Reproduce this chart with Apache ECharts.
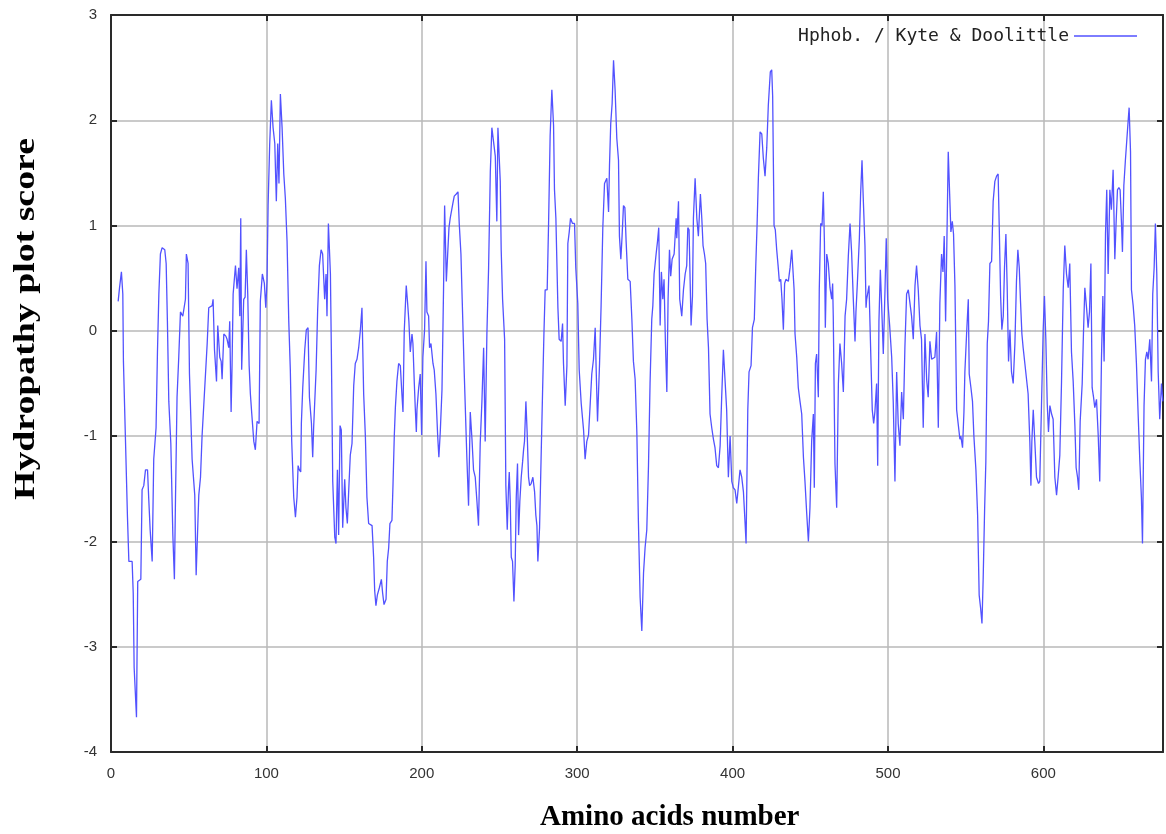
<!DOCTYPE html>
<html><head><meta charset="utf-8">
<script src="https://cdn.jsdelivr.net/npm/echarts@6/dist/echarts.min.js"></script>
<style>html,body{margin:0;padding:0;background:#fff}#c{width:1166px;height:834px}</style>
</head><body><div id="c"></div>
<script>
const seriesName = 'Hphob. / Kyte & Doolittle';
const xTitle = 'Amino acids number';
const yTitle = 'Hydropathy plot score';

const residue = [
4.6,5.5,6.7,7.6,8.0,9.3,10.6,11.5,13.6,14.3,14.9,16.4,17.2,19.2,20.0,21.1,22.2,23.5,24.3,25.2,26.5,27.5,29.0,29.9,30.8,31.8,32.9,34.6,35.5,36.3,37.2,38.5,39.8,40.8,41.5,42.5,43.6,44.7,46.2,47.9,48.5,49.6,50.5,52.2,53.9,54.8,56.5,
57.6,58.6,60.1,61.9,62.9,65.1,65.7,66.6,67.9,68.7,70.0,70.9,71.5,72.6,73.9,74.7,75.8,76.4,77.3,77.9,78.6,80.1,81.1,82.2,82.9,83.5,84.1,85.4,86.3,87.1,88.0,88.9,89.7,90.6,91.9,92.9,94.0,95.3,96.1,97.4,98.7,99.6,100.4,101.1,102.1,103.2,104.3,105.4,106.4,107.3,108.1,109.0,110.1,111.2,112.2,113.3,114.4,115.4,116.3,117.6,
118.7,119.7,120.4,121.2,122.1,122.5,123.4,124.7,125.7,126.8,127.7,129.0,129.8,130.4,132.0,133.0,134.1,135.2,136.2,137.5,138.4,139.0,139.9,141.2,141.8,142.7,144.0,144.8,145.7,146.5,147.4,148.2,149.1,150.4,151.2,152.1,153.0,154.0,155.1,156.2,157.2,158.3,159.4,160.5,161.5,162.6,163.7,164.7,165.8,168.0,169.0,169.7,170.5,171.4,172.7,174.0,174.8,175.7,177.0,177.8,178.7,179.5,
180.8,181.5,182.3,183.0,184.0,185.1,186.2,187.2,187.9,188.7,190.0,190.9,191.7,192.6,193.7,194.3,195.2,195.8,196.5,196.9,198.0,199.0,199.9,200.7,201.8,202.7,203.3,204.4,205.0,205.9,207.2,208.0,209.1,210.2,211.0,211.9,213.0,214.0,214.7,215.8,216.6,217.5,218.3,219.4,220.0,220.9,222.2,223.3,224.1,225.2,226.0,227.3,229.0,230.1,231.2,232.3,233.3,234.4,235.5,236.5,237.6,238.7,239.8,
240.8,241.9,243.0,244.1,245.1,246.2,247.3,248.3,249.0,249.8,250.5,251.1,252.0,253.3,254.1,255.0,255.8,256.3,256.9,257.6,258.4,259.3,260.1,260.8,261.6,262.3,263.1,264.0,264.9,265.5,266.1,267.0,267.8,268.7,269.4,270.4,271.5,272.6,273.4,274.1,274.7,275.8,276.9,277.7,278.6,279.4,280.7,281.6,282.6,283.7,284.8,285.4,286.3,287.6,288.4,289.7,290.6,291.2,292.3,293.4,294.0,294.9,295.7,297.0,298.3,299.1,300.4,301.3,302.6,
303.0,304.1,305.1,306.2,307.3,308.4,309.4,310.5,311.6,312.2,313.1,314.4,315.4,316.5,317.6,319.1,320.2,320.8,321.6,322.5,323.4,324.4,325.5,326.6,327.2,328.1,328.9,329.8,330.7,331.5,332.6,334.1,335.2,336.2,337.3,338.4,339.4,340.5,341.6,342.7,343.7,344.8,345.9,346.9,348.0,348.7,349.5,350.8,351.7,352.5,353.4,354.2,355.1,355.9,356.8,357.7,358.5,359.4,360.2,361.1,362.4,363.7,
364.1,365.2,366.0,367.3,368.4,369.5,370.5,371.2,372.0,373.3,374.2,374.8,375.9,377.0,378.0,379.3,380.2,381.0,381.9,382.7,383.6,384.5,385.5,386.6,387.7,388.7,389.8,390.9,392.0,393.0,394.1,395.2,396.2,397.3,398.4,399.5,400.5,401.6,402.7,403.8,404.8,405.9,407.0,408.0,408.7,409.8,410.6,411.9,412.8,414.0,414.9,415.8,416.6,417.7,418.8,419.8,420.9,422.0,423.0,424.3,
425.2,425.8,426.7,427.5,428.4,429.3,430.1,431.0,431.8,432.7,433.5,434.4,435.9,437.0,438.1,439.1,439.6,440.2,441.3,442.3,443.4,444.5,445.6,446.6,447.7,448.8,449.8,450.9,452.0,452.6,453.3,454.1,455.2,455.8,456.7,457.6,458.4,459.1,459.7,460.6,461.6,462.7,463.8,464.4,464.8,465.9,467.0,468.1,469.1,470.2,471.3,472.4,473.4,474.5,475.6,476.6,477.7,478.8,479.4,480.3,481.6,482.4,483.3,484.1,485.2,485.9,
486.3,487.8,489.1,489.9,490.8,491.6,492.7,493.4,494.2,495.1,495.9,497.0,498.1,498.9,499.8,501.1,502.4,503.4,504.5,505.6,506.6,507.7,508.8,509.9,510.9,512.0,513.1,514.2,515.2,516.3,517.4,518.4,519.5,520.6,521.6,522.7,523.8,524.9,525.9,527.0,528.1,529.2,530.2,531.3,532.4,533.4,534.5,535.4,536.2,537.1,537.9,538.8,539.7,540.5,541.4,542.2,543.1,544.2,545.2,546.3,
546.9,548.0,548.9,549.5,550.6,551.7,552.3,553.4,554.4,555.3,556.6,557.7,558.7,559.6,560.5,561.3,562.2,563.0,563.9,564.7,565.6,566.7,567.7,568.8,569.9,570.9,571.6,572.5,573.3,574.2,575.0,575.9,576.7,577.6,578.5,579.5,580.6,581.7,582.7,583.6,584.5,585.3,586.2,587.0,588.1,589.2,590.2,591.3,592.0,592.6,593.5,594.5,595.6,596.9,597.7,598.8,599.9,600.7,601.6,602.5,603.3,604.2,605.3,606.3,607.4,
608.5,609.5,610.6,611.7,612.8,613.8,614.9,616.0,617.0,618.1,619.2,620.3,621.1,622.0,622.8,623.7,625.0,625.8,626.7,627.8,628.8,629.7,630.6,631.4,632.3,633.1,634.2,635.3,636.3,637.4,638.3,639.1,640.0,640.8,641.7,642.8,643.8,644.9,646.0,646.8,647.7,648.6,649.4,650.3,650.9,651.8,652.8,653.7,654.6,655.2,656.1,656.7,657.8,658.8,659.9,661.0,662.1,663.1,663.8,664.8,665.7,666.6,667.4,668.5,669.6,670.4,671.3,672.1,673.0,673.9,674.9,676.0,676.9
];

const score = [
0.28,0.41,0.56,0.35,-0.29,-1.03,-1.77,-2.19,-2.19,-2.49,-3.2,-3.67,-2.38,-2.36,-1.51,-1.47,-1.32,-1.32,-1.6,-1.89,-2.19,-1.22,-0.92,-0.2,0.35,0.73,0.79,0.77,0.64,0.09,-0.67,-1.07,-1.94,-2.36,-1.6,-0.63,-0.25,0.18,0.14,0.3,0.73,0.64,-0.41,-1.22,-1.56,-2.32,-1.56,
-1.39,-1.0,-0.6,-0.12,0.22,0.24,0.3,-0.18,-0.48,0.05,-0.25,-0.29,-0.46,-0.03,-0.05,-0.08,-0.16,0.09,-0.77,-0.33,0.35,0.62,0.4,0.6,0.14,1.07,-0.37,0.3,0.32,0.77,0.35,-0.33,-0.6,-0.79,-1.05,-1.13,-0.86,-0.88,0.28,0.54,0.45,0.22,0.47,1.19,1.76,2.19,1.93,1.78,1.23,1.78,1.4,2.25,1.93,1.49,1.26,0.85,0.09,-0.37,-1.05,-1.58,
-1.77,-1.58,-1.28,-1.32,-1.34,-0.88,-0.54,-0.18,0.01,0.03,-0.63,-0.88,-1.2,-0.92,-0.37,0.2,0.62,0.77,0.73,0.3,0.54,0.14,1.02,0.54,-0.18,-1.43,-1.96,-2.02,-1.32,-1.94,-0.9,-0.94,-1.87,-1.41,-1.68,-1.83,-1.51,-1.18,-1.07,-0.52,-0.31,-0.27,-0.16,0.01,0.22,-0.6,-1.0,-1.58,-1.83,-1.85,-2.15,-2.47,-2.61,-2.51,-2.44,-2.36,-2.49,-2.6,-2.55,-2.19,-2.06,-1.83,
-1.8,-1.45,-1.0,-0.73,-0.48,-0.31,-0.33,-0.6,-0.77,-0.01,0.43,0.26,0.09,-0.2,-0.03,-0.12,-0.5,-0.73,-0.96,-0.75,-0.54,-0.41,-0.99,-0.25,0.01,0.66,0.18,0.14,-0.16,-0.12,-0.31,-0.37,-0.6,-0.99,-1.2,-0.96,-0.56,0.39,1.19,0.47,0.71,0.98,1.07,1.07,1.21,1.28,1.3,1.32,1.02,0.73,0.3,-0.39,-1.2,-1.66,-0.77,-1.03,-1.32,-1.39,-1.62,-1.85,-1.07,-0.67,-0.16,
-1.05,-0.03,0.6,1.51,1.93,1.93,1.66,1.04,1.93,1.93,1.42,0.77,0.3,-0.08,-1.47,-1.89,-1.49,-1.34,-1.6,-2.15,-2.19,-2.57,-2.23,-1.58,-1.26,-1.94,-1.62,-1.39,-1.24,-1.13,-1.05,-0.67,-0.96,-1.39,-1.47,-1.45,-1.39,-1.53,-1.75,-1.85,-2.19,-1.87,-1.13,-0.6,-0.03,0.39,0.39,1.02,1.85,2.29,1.95,1.34,1.07,0.22,-0.08,-0.1,0.07,-0.31,-0.71,-0.33,0.83,0.94,1.07,1.02,1.02,0.6,0.26,-0.37,-0.69,
-0.69,-0.94,-1.22,-1.05,-0.99,-0.69,-0.41,-0.27,0.03,-0.35,-0.86,-0.31,0.24,0.98,1.4,1.45,1.13,1.57,1.97,2.16,2.57,2.29,1.83,1.62,0.9,0.68,0.9,1.19,1.17,0.85,0.49,0.47,0.11,-0.29,-0.46,-0.96,-1.81,-2.53,-2.85,-2.3,-2.06,-1.89,-1.28,-0.5,0.11,0.24,0.54,0.73,0.85,0.98,0.05,0.56,0.3,0.49,-0.12,-0.58,0.3,0.77,0.52,0.68,0.73,1.07,
0.88,1.23,0.3,0.14,0.39,0.54,0.62,0.98,0.96,0.05,0.33,1.07,1.45,1.07,0.9,1.3,1.07,0.81,0.73,0.64,0.11,-0.16,-0.79,-0.92,-1.03,-1.11,-1.28,-1.3,-1.09,-0.63,-0.18,-0.48,-0.75,-1.39,-1.0,-1.43,-1.49,-1.51,-1.64,-1.64,-1.32,-1.39,-1.53,-1.81,-2.02,-0.75,-0.39,-0.33,0.03,0.11,0.6,1.02,1.45,1.89,1.87,1.64,1.47,1.74,2.14,2.46,
2.48,2.23,1.0,0.96,0.77,0.62,0.47,0.49,0.3,0.01,0.45,0.49,0.47,0.6,0.77,0.77,0.39,-0.03,-0.25,-0.54,-0.67,-0.79,-1.2,-1.43,-1.73,-2.0,-1.68,-1.05,-0.79,-1.49,-0.31,-0.22,-0.63,0.39,1.02,1.0,1.32,0.85,0.03,0.73,0.64,0.41,0.3,0.45,0.14,-1.26,-1.68,-0.5,-0.12,-0.31,-0.58,0.14,0.3,0.71,1.02,0.75,0.3,-0.1,0.18,0.45,0.88,1.3,1.62,1.26,0.81,0.22,
0.3,0.43,-0.31,-0.75,-0.88,-0.77,-0.5,-1.28,0.09,0.58,0.26,-0.22,0.39,0.88,0.3,0.05,-0.25,-0.67,-1.43,-0.39,-0.88,-1.09,-0.58,-0.84,-0.16,0.35,0.39,0.39,0.14,-0.08,0.43,0.62,0.39,0.05,-0.08,-0.92,-0.03,-0.46,-0.63,-0.1,-0.27,-0.27,-0.25,-0.01,-0.92,0.26,0.73,0.56,0.9,0.09,0.83,1.7,1.3,0.94,1.04,0.92,0.43,-0.75,-0.75,-1.03,
-1.0,-1.11,-0.77,-0.39,-0.03,0.3,-0.41,-0.54,-0.67,-1.0,-1.32,-1.75,-2.51,-2.63,-2.78,-2.34,-1.7,-1.24,-0.12,0.09,0.64,0.66,1.23,1.42,1.47,1.49,1.0,0.33,0.01,0.14,0.6,0.92,0.43,-0.29,0.01,-0.39,-0.5,-0.12,0.47,0.77,0.6,0.28,-0.03,-0.16,-0.31,-0.31,-0.6,-1.05,-1.47,-1.05,-0.75,-1.05,-1.39,-1.45,-1.43,-0.71,0.01,0.33,-0.08,-0.69,-0.96,-0.71,-0.79,-0.84,-1.39,
-1.56,-1.39,-1.18,-0.48,0.39,0.81,0.54,0.41,0.64,-0.2,-0.48,-0.9,-1.3,-1.39,-1.51,-0.86,-0.5,-0.03,0.41,0.22,0.03,0.18,0.64,-0.54,-0.63,-0.73,-0.65,-0.99,-1.43,-0.27,0.33,-0.29,0.92,1.34,0.54,1.34,1.15,1.53,0.68,1.02,1.34,1.36,1.34,1.02,0.75,1.38,1.62,1.81,2.0,2.12,1.7,0.39,0.24,0.05,-0.31,-0.79,-1.24,-1.58,-2.02,-0.71,-0.27,-0.2,-0.27,-0.08,-0.48,0.35,0.6,1.02,0.54,-0.39,-0.84,-0.5,-0.67
];

const xMin = 0, xMax = 677, xStep = 100;
const yMin = -4, yMax = 3, yStep = 1;

const n = Math.min(residue.length, score.length);
const points = [];
for (let i = 0; i < n; i++) points.push([residue[i], score[i]]);

const lineColor = '#5252ff';
const axisColor = '#2a2a2a';
const gridColor = '#b8b8b8';
const labelFont = {color: '#333', fontFamily: 'Liberation Sans', fontSize: 15};

function xAx(pos, showLabel) {
  return {
    type: 'value', position: pos, min: xMin, max: xMax, interval: xStep,
    axisLine: {show: true, onZero: false, lineStyle: {color: axisColor, width: 2}},
    axisTick: {show: true, inside: true, length: 6, lineStyle: {color: axisColor, width: 2}},
    axisLabel: Object.assign({show: showLabel, margin: 14, showMaxLabel: false}, labelFont),
    splitLine: {show: showLabel, lineStyle: {color: gridColor, width: 1.5}}
  };
}
function yAx(pos, showLabel) {
  return {
    type: 'value', position: pos, min: yMin, max: yMax, interval: yStep,
    axisLine: {show: true, onZero: false, lineStyle: {color: axisColor, width: 2}},
    axisTick: {show: true, inside: true, length: 6, lineStyle: {color: axisColor, width: 2}},
    axisLabel: Object.assign({show: showLabel, margin: 14}, labelFont),
    splitLine: {show: showLabel, lineStyle: {color: gridColor, width: 1.5}}
  };
}

const chart = echarts.init(document.getElementById('c'), null, {renderer: 'canvas'});
chart.setOption({
  backgroundColor: '#ffffff',
  animation: false,
  grid: {left: 111, top: 15, width: 1052, height: 737, containLabel: false},
  xAxis: [xAx('bottom', true), xAx('top', false)],
  yAxis: [yAx('left', true), yAx('right', false)],
  legend: {
    show: true, data: [seriesName], right: 24, top: 22, align: 'right',
    icon: 'rect', itemWidth: 63, itemHeight: 1.5, itemGap: 10,
    textStyle: {fontFamily: 'DejaVu Sans Mono', fontSize: 18, color: '#222'}
  },
  series: [{
    name: seriesName, type: 'line', data: points,
    xAxisIndex: 0, yAxisIndex: 0,
    showSymbol: false, symbol: 'none',
    lineStyle: {color: lineColor, width: 1.3},
    itemStyle: {color: lineColor},
    clip: true
  }],
  graphic: [
    {type: 'text', left: 540, top: 803,
     style: {text: xTitle, fill: '#000', font: 'bold 29px "Liberation Serif"'}},
    {type: 'text', x: 11, y: 500, rotation: Math.PI / 2, scaleX: 1.26,
     style: {text: yTitle, fill: '#000', font: 'bold 30px "Liberation Serif"', textAlign: 'left', textVerticalAlign: 'top'}}
  ]
});
</script>
</body></html>
